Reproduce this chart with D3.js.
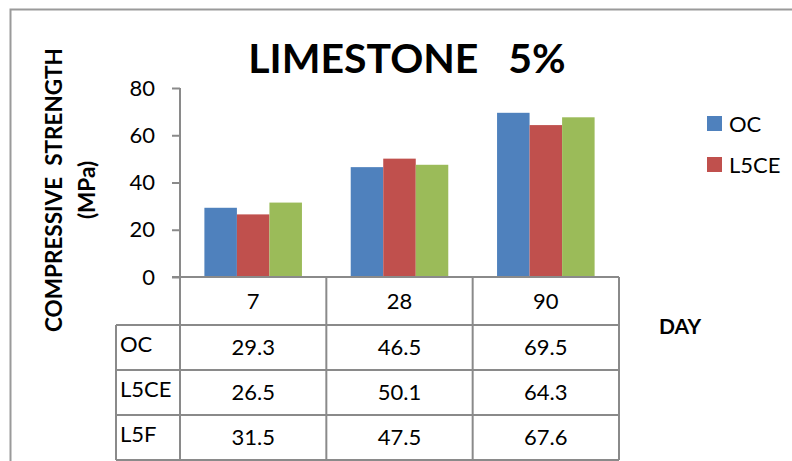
<!DOCTYPE html>
<html>
<head>
<meta charset="utf-8">
<script src="https://cdn.jsdelivr.net/npm/d3@7"></script>
<style>
  body { margin: 0; background: #fff; }
  svg { display: block; font-family: Lato, "Liberation Sans", sans-serif; }
</style>
</head>
<body>
<svg width="792" height="461"></svg>
<script>
const days = ["7", "28", "90"];
const seriesNames = ["OC", "L5CE", "L5F"];
const ocValues = [29.3, 46.5, 69.5];
const l5ceValues = [26.5, 50.1, 64.3];
const l5fValues = [31.5, 47.5, 67.6];
const yTicks = [0, 20, 40, 60, 80];
const colors = ["#4F81BD", "#C0504D", "#9BBB59"];

const series = [ocValues, l5ceValues, l5fValues];
const svg = d3.select("svg");
const grid = "#8a8a8a";

// outer frame (left and top edges visible)
svg.append("path").attr("d", "M10.5,461 V9.5 H792")
  .attr("fill", "none").attr("stroke", "#9a9a9a").attr("stroke-width", 2);

const x0 = 180, x1 = 619, yTop = 88, yBase = 277;
const xScale = d3.scaleBand().domain(days).range([x0, x1]).paddingInner(0).paddingOuter(0);
const yScale = d3.scaleLinear().domain([0, 80]).range([yBase, yTop]);
const inner = d3.scaleBand().domain(d3.range(3)).range([0, xScale.bandwidth()]).paddingOuter(0.75).paddingInner(0);

// bars
const g = svg.append("g");
days.forEach((d, i) => {
  series.forEach((vals, s) => {
    g.append("rect")
      .attr("x", xScale(d) + inner(s))
      .attr("y", yScale(vals[i]))
      .attr("width", inner.bandwidth())
      .attr("height", yBase - yScale(vals[i]))
      .attr("fill", colors[s]);
  });
});

// y axis
const yAxis = d3.axisLeft(yScale).tickValues(yTicks).tickSize(8).tickPadding(17);
const ya = svg.append("g").attr("transform", `translate(${x0},0)`).call(yAxis);
ya.select(".domain").attr("stroke", grid).attr("stroke-width", 2).attr("d", `M0,${yTop}V${yBase}`);
ya.selectAll(".tick line").attr("stroke", grid).attr("stroke-width", 2);
ya.selectAll(".tick text").attr("font-size", 22).attr("fill", "#000").attr("font-family", "Lato");

// data table
const rowY = [yBase, 325, 370, 415, 460];
const labelX = 116;
const tbl = svg.append("g").attr("stroke", grid).attr("stroke-width", 2).attr("fill", "none");
// horizontal lines
tbl.append("line").attr("x1", 172).attr("x2", x1).attr("y1", yBase).attr("y2", yBase);
for (let r = 1; r < rowY.length; r++) {
  tbl.append("line").attr("x1", labelX).attr("x2", x1).attr("y1", rowY[r]).attr("y2", rowY[r]);
}
// vertical lines
tbl.append("line").attr("x1", labelX).attr("x2", labelX).attr("y1", rowY[1]).attr("y2", rowY[4]);
[x0, ...days.map(d => xScale(d) + xScale.bandwidth())].forEach(xv => {
  tbl.append("line").attr("x1", xv).attr("x2", xv).attr("y1", yBase).attr("y2", rowY[4]);
});

const txt = svg.append("g").attr("font-size", 22).attr("fill", "#000");
days.forEach(d => {
  txt.append("text").attr("x", xScale(d) + xScale.bandwidth() / 2).attr("y", (rowY[0] + rowY[1]) / 2)
    .attr("text-anchor", "middle").attr("dy", "0.35em").text(d);
});
seriesNames.forEach((n, s) => {
  const cy = (rowY[s + 1] + rowY[s + 2]) / 2;
  txt.append("text").attr("x", labelX + 4).attr("y", cy - 3).attr("dy", "0.35em").text(n);
  days.forEach((d, i) => {
    txt.append("text").attr("x", xScale(d) + xScale.bandwidth() / 2).attr("y", cy)
      .attr("text-anchor", "middle").attr("dy", "0.35em").text(series[s][i].toFixed(1));
  });
});

// title
svg.append("text").attr("x", 407).attr("y", 73).attr("text-anchor", "middle")
  .attr("font-size", 41).attr("font-weight", "bold").style("white-space", "pre")
  .text("LIMESTONE   5%");

// y axis title
const yt = svg.append("g").attr("font-weight", "bold").attr("font-size", 22.5).attr("text-anchor", "middle");
yt.append("text").attr("transform", "translate(62,190) rotate(-90)").style("white-space", "pre")
  .text("COMPRESSIVE  STRENGTH");
yt.append("text").attr("transform", "translate(95,190) rotate(-90)").text("(MPa)");

// x title
svg.append("text").attr("x", 659).attr("y", 334).attr("font-size", 21).attr("font-weight", "bold").text("DAY");

// legend (only two entries fit)
const leg = svg.append("g").attr("font-size", 22);
seriesNames.slice(0, 2).forEach((n, s) => {
  const ly = 116 + s * 41;
  leg.append("rect").attr("x", 707).attr("y", ly).attr("width", 15).attr("height", 15).attr("fill", colors[s]);
  leg.append("text").attr("x", 729).attr("y", ly + 8).attr("dy", "0.35em").text(n);
});
</script>
</body>
</html>
